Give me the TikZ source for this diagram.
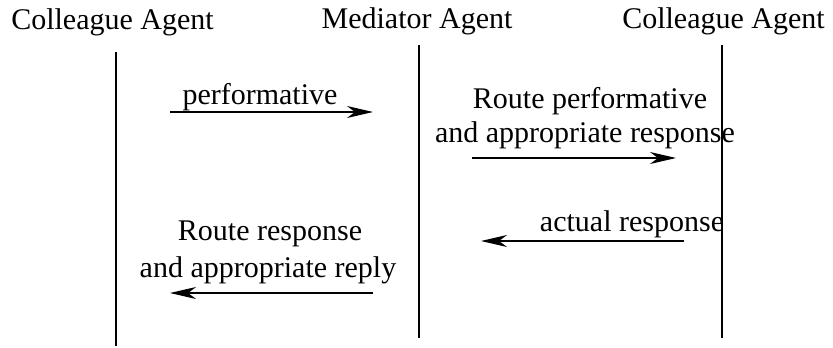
\documentclass[tikz,border=0pt]{standalone}
\usepackage{fontspec}
\setmainfont{Liberation Serif}
\usetikzlibrary{arrows.meta}
\begin{document}
\begin{tikzpicture}[x=1pt,y=-1pt,
  lifeline/.style={line width=1.3pt},
  msg/.style={line width=1.2pt,-{Stealth[length=26pt,width=12pt,inset=8pt]}},
  lbl/.style={font=\fontsize{30}{34}\selectfont, inner sep=0pt, anchor=base}]
\useasboundingbox (0,0) rectangle (833,348);

% agent headings
\node[lbl] (hA) at (112.5,29) {Colleague Agent};
\node[lbl] (hM) at (417,28) {Mediator Agent};
\node[lbl] (hB) at (723.5,28) {Colleague Agent};

% lifelines
\coordinate (a1) at (116,52);  \coordinate (a2) at (116,346);
\coordinate (m1) at (419,45);  \coordinate (m2) at (419,338);
\coordinate (b1) at (722,45);  \coordinate (b2) at (722,338);
\draw[lifeline] (a1) -- (a2);
\draw[lifeline] (m1) -- (m2);
\draw[lifeline] (b1) -- (b2);

% message ends
\coordinate (p1) at (170,112); \coordinate (p2) at (373,112);
\coordinate (q1) at (472,158); \coordinate (q2) at (676,158);
\coordinate (r1) at (684,241); \coordinate (r2) at (481,241);
\coordinate (s1) at (373,293); \coordinate (s2) at (170,293);

% messages
\draw[msg] (p1) -- (p2);
\draw[msg] (q1) -- (q2);
\draw[msg] (r1) -- (r2);
\draw[msg] (s1) -- (s2);

% message labels
\node[lbl] (t1) at (260,104) {performative};
\node[lbl] (t2a) at (590,108) {Route performative};
\node[lbl] (t2b) at (585,142) {and appropriate response};
\node[lbl] (t3) at (632,231) {actual response};
\node[lbl] (t4a) at (270,240) {Route response};
\node[lbl] (t4b) at (268,277) {and appropriate reply};
\end{tikzpicture}
\end{document}
